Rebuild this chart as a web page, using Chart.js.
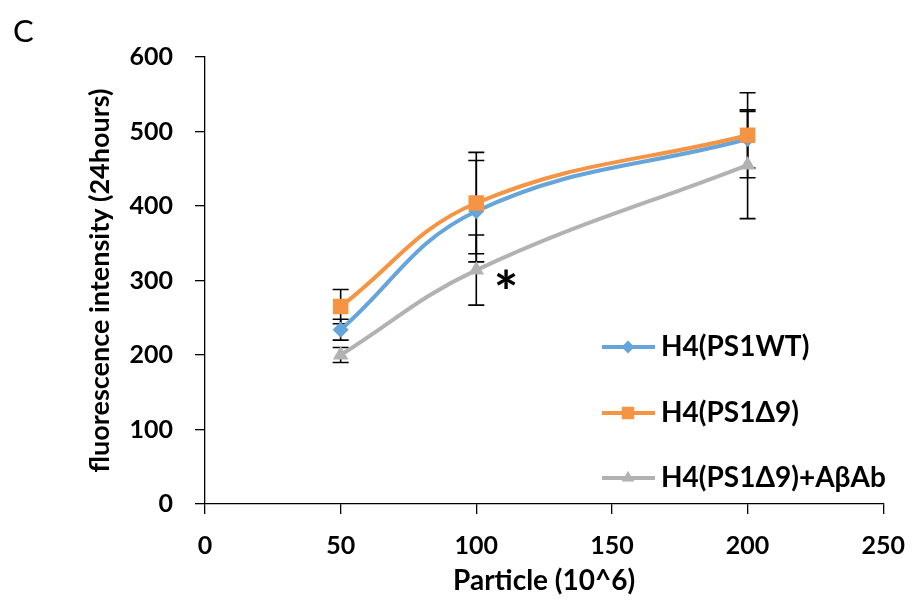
<!DOCTYPE html>
<html>
<head>
<meta charset="utf-8">
<script src="https://cdn.jsdelivr.net/npm/chart.js@4.4.1/dist/chart.umd.min.js"></script>
<style>
  body { margin: 0; background: #fff; }
  #wrap { position: relative; width: 922px; height: 600px; }
</style>
</head>
<body>
<div id="wrap"><canvas id="fluo"></canvas></div>
<script>
// particles (10^6)
var particles = [50, 100, 200];

var wtLabel = 'H4(PS1WT)';
var wtValues = [234, 393, 490];
var wtErrors = [14, 68, 39];

var d9Label = 'H4(PS1Δ9)';
var d9Values = [265, 404, 495];
var d9Errors = [23, 68, 57];

var abLabel = 'H4(PS1Δ9)+AβAb';
var abValues = [200, 314, 455];
var abErrors = [10, 47, 72];

var xTicks = [0, 50, 100, 150, 200, 250];
var yTicks = [0, 100, 200, 300, 400, 500, 600];

// significance mark next to the 100 point of the antibody series
var starPoint = { x: 111, y: 298 };

var FONT = 'Lato, Calibri, Carlito, "Open Sans", sans-serif';

function toPoints(xs, ys) {
  var out = [];
  for (var i = 0; i < xs.length; i++) out.push({ x: xs[i], y: ys[i] });
  return out;
}

function series(label, values, errors, color, style, radius, order) {
  return {
    label: label,
    data: toPoints(particles, values),
    errors: errors,
    borderColor: color,
    backgroundColor: color,
    borderWidth: 4,
    pointStyle: style,
    pointRadius: radius,
    pointHoverRadius: radius,
    pointBorderWidth: 0,
    tension: 0.4,
    order: order
  };
}

// black error bars with caps, drawn under the markers
var errorBars = {
  id: 'errorBars',
  beforeDatasetsDraw: function(chart) {
    var ctx = chart.ctx;
    var ys = chart.scales.y;
    ctx.save();
    ctx.strokeStyle = '#000';
    ctx.lineWidth = 1.6;
    chart.data.datasets.forEach(function(ds, di) {
      var meta = chart.getDatasetMeta(di);
      ds.data.forEach(function(p, i) {
        var px = meta.data[i].x;
        var top = ys.getPixelForValue(p.y + ds.errors[i]);
        var bot = ys.getPixelForValue(p.y - ds.errors[i]);
        ctx.beginPath();
        ctx.moveTo(px, top); ctx.lineTo(px, bot);
        ctx.moveTo(px - 8, top); ctx.lineTo(px + 8, top);
        ctx.moveTo(px - 8, bot); ctx.lineTo(px + 8, bot);
        ctx.stroke();
      });
    });
    ctx.restore();
  }
};

// legend inside the plot, line sample with marker like Excel
var insideLegend = {
  id: 'insideLegend',
  afterDraw: function(chart) {
    var ctx = chart.ctx;
    var rows = [347, 413, 478];
    ctx.save();
    chart.data.datasets.forEach(function(ds, i) {
      var y = rows[i];
      ctx.strokeStyle = ds.borderColor;
      ctx.lineWidth = 4;
      ctx.beginPath();
      ctx.moveTo(602, y); ctx.lineTo(655, y);
      ctx.stroke();
      ctx.fillStyle = ds.backgroundColor;
      Chart.helpers.drawPoint(ctx, { pointStyle: ds.pointStyle, radius: ds.pointRadius * 0.8, borderWidth: 0 }, 628, y);
      ctx.fillStyle = '#000';
      ctx.font = 'bold 28px ' + FONT;
      ctx.textAlign = 'left';
      ctx.textBaseline = 'middle';
      ctx.fillText(ds.label, 661, y);
    });

    // asterisk
    var sx = chart.scales.x.getPixelForValue(starPoint.x);
    var sy = chart.scales.y.getPixelForValue(starPoint.y);
    ctx.font = 'bold 58px ' + FONT;
    ctx.textAlign = 'center';
    ctx.textBaseline = 'middle';
    ctx.fillText('*', sx, sy + 12);

    // panel letter
    ctx.font = '31px ' + FONT;
    ctx.textAlign = 'left';
    ctx.textBaseline = 'alphabetic';
    ctx.fillText('C', 13, 42);
    ctx.restore();
  }
};

new Chart(document.getElementById('fluo'), {
  type: 'line',
  data: {
    datasets: [
      series(wtLabel, wtValues, wtErrors, '#65A5DC', 'rectRot', 8, 1),
      series(d9Label, d9Values, d9Errors, '#F59443', 'rect', 11, 0),
      series(abLabel, abValues, abErrors, '#B2B2B2', 'triangle', 9, 2)
    ]
  },
  options: {
    responsive: true,
    maintainAspectRatio: false,
    animation: false,
    layout: { padding: { top: 57, right: 32, left: 0, bottom: 0 } },
    plugins: {
      legend: { display: false },
      tooltip: { enabled: false }
    },
    scales: {
      x: {
        type: 'linear',
        min: 0,
        max: 250,
        afterFit: function(s) { s.height = 96; },
        afterBuildTicks: function(s) { s.ticks = xTicks.map(function(v) { return { value: v }; }); },
        grid: { display: true, drawOnChartArea: false, drawTicks: true, tickLength: 10, color: '#000', lineWidth: 1.3 },
        border: { display: true, color: '#000', width: 1.3 },
        ticks: { color: '#000', padding: 17, font: { family: FONT, size: 25, weight: 'bold' } },
        title: {
          display: true,
          text: 'Particle (10^6)',
          color: '#000',
          font: { family: FONT, size: 28, weight: 'bold' },
          padding: { top: 0, bottom: 2 }
        }
      },
      y: {
        min: 0,
        max: 600,
        afterFit: function(s) { s.width = 205; },
        afterBuildTicks: function(s) { s.ticks = yTicks.map(function(v) { return { value: v }; }); },
        grid: { display: true, drawOnChartArea: false, drawTicks: true, tickLength: 10, color: '#000', lineWidth: 1.3 },
        border: { display: true, color: '#000', width: 1.3 },
        ticks: { color: '#000', padding: 22, font: { family: FONT, size: 25, weight: 'bold' } },
        title: {
          display: true,
          text: 'fluorescence intensity (24hours)',
          color: '#000',
          font: { family: FONT, size: 27, weight: 'bold' },
          padding: { top: 84, bottom: 0 }
        }
      }
    }
  },
  plugins: [errorBars, insideLegend]
});
</script>
</body>
</html>
